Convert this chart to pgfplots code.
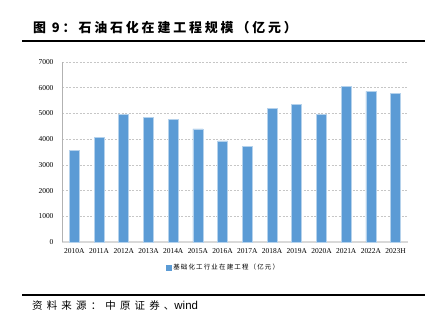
\documentclass[border=0pt]{standalone}
\usepackage{fontspec}
\usepackage{pgfplots}
\pgfplotsset{compat=1.18}
\setmainfont{Liberation Serif}
\newfontfamily\sans{Liberation Sans}
\newfontfamily\cjk{Noto Sans CJK SC}
\newfontfamily\cjkls{Noto Sans CJK SC}[LetterSpace=40]
\newfontfamily\cjkt{Noto Sans CJK SC}[LetterSpace=22]
\newfontfamily\cjkleg{Noto Sans CJK SC}[LetterSpace=18]
\definecolor{barblue}{HTML}{5B9BD5}
\begin{document}
\begin{tikzpicture}[x=1bp,y=1bp]
\path[use as bounding box] (0,0) rectangle (436,322);
\draw[line width=1.8bp] (22,281.3) -- (425,281.3);
\draw[line width=1.8bp] (22,27.3) -- (425,27.3);
\node[anchor=west, inner sep=0pt, font=\cjkt\bfseries\fontsize{13}{15}\selectfont] at (33,294.3) {图 9：石油石化在建工程规模（亿元）};
\node[anchor=west, inner sep=0pt, font=\cjkls\fontsize{10.5}{12}\selectfont] at (32,16.3) {资料来源：中原证券、{\sans\fontsize{11.5}{12}\selectfont wind}};
\begin{axis}[
  at={(62bp,80bp)}, anchor=south west, scale only axis,
  width=346bp, height=180bp,
  ymin=0, ymax=7000, ytick={0,1000,...,7000},
  xmin=-0.5, xmax=13.5,
  xtick=data,
  xticklabels={2010A,2011A,2012A,2013A,2014A,2015A,2016A,2017A,2018A,2019A,2020A,2021A,2022A,2023H},
  ybar, bar width=10bp,
  axis x line=bottom, axis y line=left,
  x axis line style={-, draw=gray!30, line width=1.6bp},
  y axis line style={-, draw=gray!60, line width=0.6bp},
  major tick length=0pt,
  ymajorgrids,
  major grid style={draw=gray!45, line width=0.5bp, dash pattern=on 2bp off 1.5bp},
  /pgf/number format/assume math mode=true,
  /pgf/number format/1000 sep={},
  yticklabel style={font=\fontsize{7.5}{8}\selectfont, xshift=-5bp},
  xticklabel style={font=\fontsize{7.5}{8}\selectfont, yshift=-3bp},
  legend style={at={(0.467,-0.144)}, anchor=center, draw=none, fill=none,
    font=\cjkleg\fontsize{6.5}{7}\selectfont},
  legend image code/.code={\fill[barblue] (0bp,-2.3bp) rectangle (4.6bp,2.3bp);},
]
\addplot[fill=barblue, draw=barblue!45!white, line width=0.6bp] coordinates {
(0,3560) (1,4078) (2,4963) (3,4858) (4,4753) (5,4402) (6,3935)
(7,3707) (8,5184) (9,5340) (10,4975) (11,6051) (12,5857) (13,5790)};
\addlegendentry{基础化工行业在建工程（亿元）}
\end{axis}
\end{tikzpicture}
\end{document}
